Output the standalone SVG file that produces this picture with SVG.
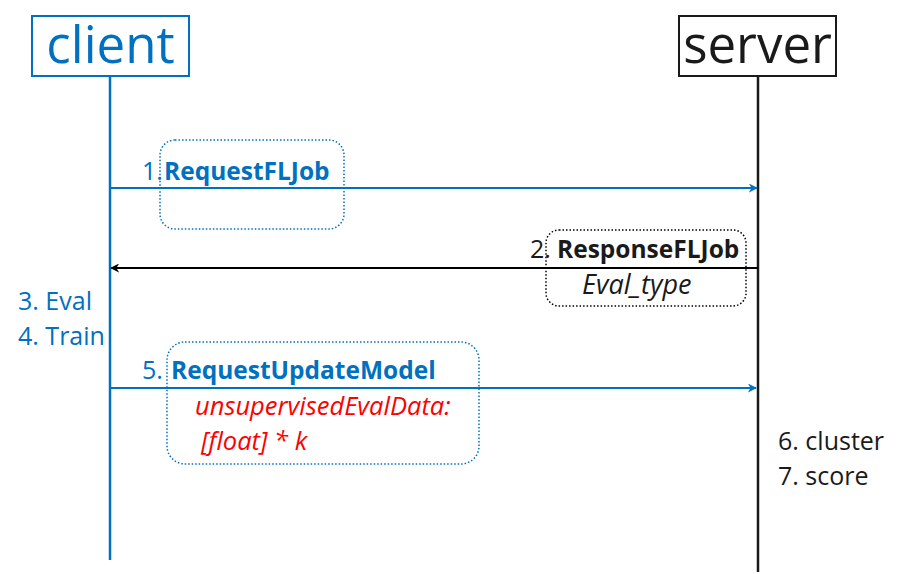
<svg xmlns="http://www.w3.org/2000/svg" width="908" height="574" viewBox="0 0 908 574">
<style>
text{font-family:"Open Sans","Liberation Sans",Arial,sans-serif}
.blue{fill:#0070C0}
.dark{fill:#1a1a1a}
.red{fill:#FF0000}
.lbl{font-size:25px}
.b{font-weight:bold;font-size:24.5px}
.i{font-style:italic;font-size:27px}
.ri{font-style:italic;font-size:25.5px}
.head{font-size:51px;text-anchor:middle}
.dotb{fill:none;stroke:#0070C0;stroke-width:1.5;stroke-dasharray:1.5 2}
.dotk{fill:none;stroke:#000;stroke-width:1.5;stroke-dasharray:1.5 2}
</style>
<defs>
<marker id="ab" viewBox="0 0 10 10" refX="9" refY="5" markerWidth="9" markerHeight="9" markerUnits="userSpaceOnUse" orient="auto"><path d="M0,0 L10,5 L0,10 L3,5 Z" fill="#0070C0"/></marker>
<marker id="ak" viewBox="0 0 10 10" refX="9" refY="5" markerWidth="9" markerHeight="9" markerUnits="userSpaceOnUse" orient="auto"><path d="M0,0 L10,5 L0,10 L3,5 Z" fill="#000"/></marker>
</defs>
<rect width="908" height="574" fill="#fff"/>
<g id="client">
<rect x="32" y="16" width="157" height="60" fill="#fff" stroke="#0070C0" stroke-width="2"/>
<text x="110.5" y="63" class="head blue">client</text>
<line x1="110" y1="76" x2="110" y2="560" stroke="#0070C0" stroke-width="2.5"/>
</g>
<g id="server">
<rect x="679" y="16" width="157" height="60" fill="#fff" stroke="#1a1a1a" stroke-width="2"/>
<text x="757.5" y="63" class="head dark">server</text>
<line x1="758" y1="76" x2="758" y2="572" stroke="#1a1a1a" stroke-width="2.5"/>
</g>
<g id="connectors">
<line x1="110" y1="188" x2="757" y2="188" stroke="#0070C0" stroke-width="2" marker-end="url(#ab)"/>
<line x1="758" y1="268" x2="111" y2="268" stroke="#000" stroke-width="2" marker-end="url(#ak)"/>
<line x1="110" y1="388" x2="756" y2="388" stroke="#0070C0" stroke-width="2" marker-end="url(#ab)"/>
</g>
<g id="msg1">
<rect x="160" y="140" width="184" height="89" rx="15" class="dotb"/>
<text x="142" y="180" class="lbl blue">1.<tspan x="164" class="b">RequestFLJob</tspan></text>
</g>
<g id="msg2">
<rect x="546" y="230" width="200" height="76" rx="13" class="dotk"/>
<text x="530" y="258" class="lbl dark">2. <tspan x="557" class="b">ResponseFLJob</tspan></text>
<text x="582" y="294" class="lbl dark i">Eval_type</text>
</g>
<g id="steps34">
<text x="18" y="310" class="lbl blue">3. Eval</text>
<text x="18" y="345" class="lbl blue">4. Train</text>
</g>
<g id="msg5">
<rect x="167" y="342" width="312" height="122" rx="18" class="dotb"/>
<text x="142" y="379" class="lbl blue">5. <tspan x="171" class="b">RequestUpdateModel</tspan></text>
<text x="195" y="415" class="red ri">unsupervisedEvalData:</text>
<text x="201" y="450" class="red ri">[float] * k</text>
</g>
<g id="steps67">
<text x="778" y="450" class="lbl dark">6. cluster</text>
<text x="778" y="485" class="lbl dark">7. score</text>
</g>
</svg>
